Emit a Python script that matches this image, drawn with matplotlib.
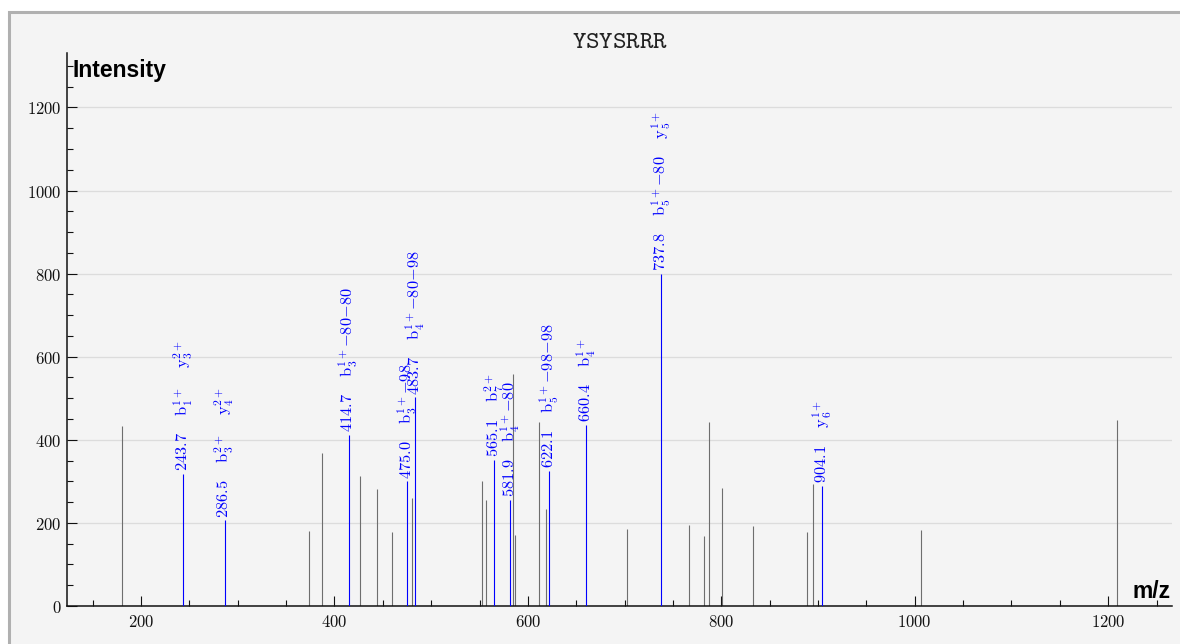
import numpy as np
import matplotlib
matplotlib.use("Agg")
import matplotlib.pyplot as plt
from matplotlib.patches import Rectangle
from matplotlib.ticker import MultipleLocator, FuncFormatter

plt.rcParams["mathtext.fontset"] = "cm"

# === Spectrum data ===
title = "YSYSRRR"

# unassigned peaks (grey)
other_mz = [180.4, 373.7, 386.8, 426.4, 443.7, 459.8, 479.8, 552.2, 556.3,
            584.9, 586.3, 611.1, 618.4, 702.8, 766.5, 782.5, 787.2, 800.3,
            833.0, 888.7, 895.0, 1006.6, 1208.8]
other_int = [434, 181, 369, 312, 282, 177, 260, 301, 255,
             559, 171, 443, 234, 185, 194, 169, 442, 285,
             192, 177, 294, 182, 448]

# assigned peaks (blue) with their fragment labels
match_mz = [243.7, 286.5, 414.7, 475.0, 483.7, 565.1, 581.9, 622.1, 660.4, 737.8, 904.1]
match_int = [318, 206, 412, 300, 502, 352, 255, 325, 436, 800, 290]
match_ions = [
    [r"b_1^{1+}", r"y_3^{2+}"],
    [r"b_3^{2+}", r"y_4^{2+}"],
    [r"b_3^{1+}{-}80{-}80"],
    [r"b_3^{1+}{-}98"],
    [r"b_4^{1+}{-}80{-}98"],
    [r"b_7^{2+}"],
    [r"b_4^{1+}{-}80"],
    [r"b_5^{1+}{-}98{-}98"],
    [r"b_4^{1+}"],
    [r"b_5^{1+}{-}80", r"y_5^{1+}"],
    [r"y_6^{1+}"],
]

W, H = 1180, 644
fig = plt.figure(figsize=(W / 100, H / 100), dpi=100, facecolor="white")

# grey framed panel behind everything
fig.patches.append(Rectangle((8.5 / W, -0.1), 1.2, 1 - 11.5 / H + 0.1,
                             transform=fig.transFigure, fc="#f4f4f4",
                             ec="#b0b0b0", lw=2.2, zorder=-10))

ax = fig.add_axes([67 / W, 38 / H, (1172 - 67) / W, (606 - 53) / H])
ax.set_facecolor("none")
ax.set_zorder(1)

ax.vlines(other_mz, 0, other_int, color="#6e6e6e", lw=0.8, zorder=2)
ax.vlines(match_mz, 0, match_int, color="#0000ff", lw=0.8, zorder=3)

for mz, it, ions in zip(match_mz, match_int, match_ions):
    parts = [f"{mz:.1f}"] + [r"\mathrm{" + s.replace("_", "}_", 1) for s in ions]
    s = "$" + r"\quad\;".join(parts) + "$"
    ax.annotate(s, (mz, it), xytext=(0, 2), textcoords="offset points",
                rotation=90, ha="center", va="bottom", color="#0000ff",
                fontsize=11.8, zorder=4)

ax.set_xlim(123.5, 1266)
ax.set_ylim(0, 1331)

ax.xaxis.set_major_locator(MultipleLocator(200))
ax.xaxis.set_minor_locator(MultipleLocator(50))
ax.yaxis.set_major_locator(MultipleLocator(200))
ax.yaxis.set_minor_locator(MultipleLocator(50))
fmt = FuncFormatter(lambda v, p: f"${int(round(v))}$")
ax.xaxis.set_major_formatter(fmt)
ax.yaxis.set_major_formatter(fmt)
ax.tick_params(which="both", direction="in", width=0.8, colors="#111111",
               labelsize=12)
ax.tick_params(which="major", length=7.2)
ax.tick_params(which="minor", length=4.3)
ax.tick_params(axis="x", pad=5)
ax.tick_params(axis="y", pad=4)

ax.grid(True, axis="y", which="major", color="#dcdcdc", lw=0.9, zorder=1)
ax.set_axisbelow(True)
for side in ["top", "right"]:
    ax.spines[side].set_visible(False)
for side in ["left", "bottom"]:
    ax.spines[side].set_linewidth(1.1)
    ax.spines[side].set_color("#111111")

# typewriter title (Computer Modern Typewriter via mathtext)
fig.text(620 / W, 1 - 48 / H, r"$\mathtt{" + title + "}$",
         fontsize=18.5, ha="center", va="baseline", color="#222222")
fig.text(73 / W, 1 - 77 / H, "Intensity", family="Liberation Sans",
         fontweight="bold", fontsize=16.5, ha="left", va="baseline")
fig.text(1132 / W, 1 - 598 / H, "m/z", family="Liberation Sans",
         fontweight="bold", fontsize=16.5, ha="left", va="baseline")

fig.savefig("out.png", dpi=100, facecolor=fig.get_facecolor())
